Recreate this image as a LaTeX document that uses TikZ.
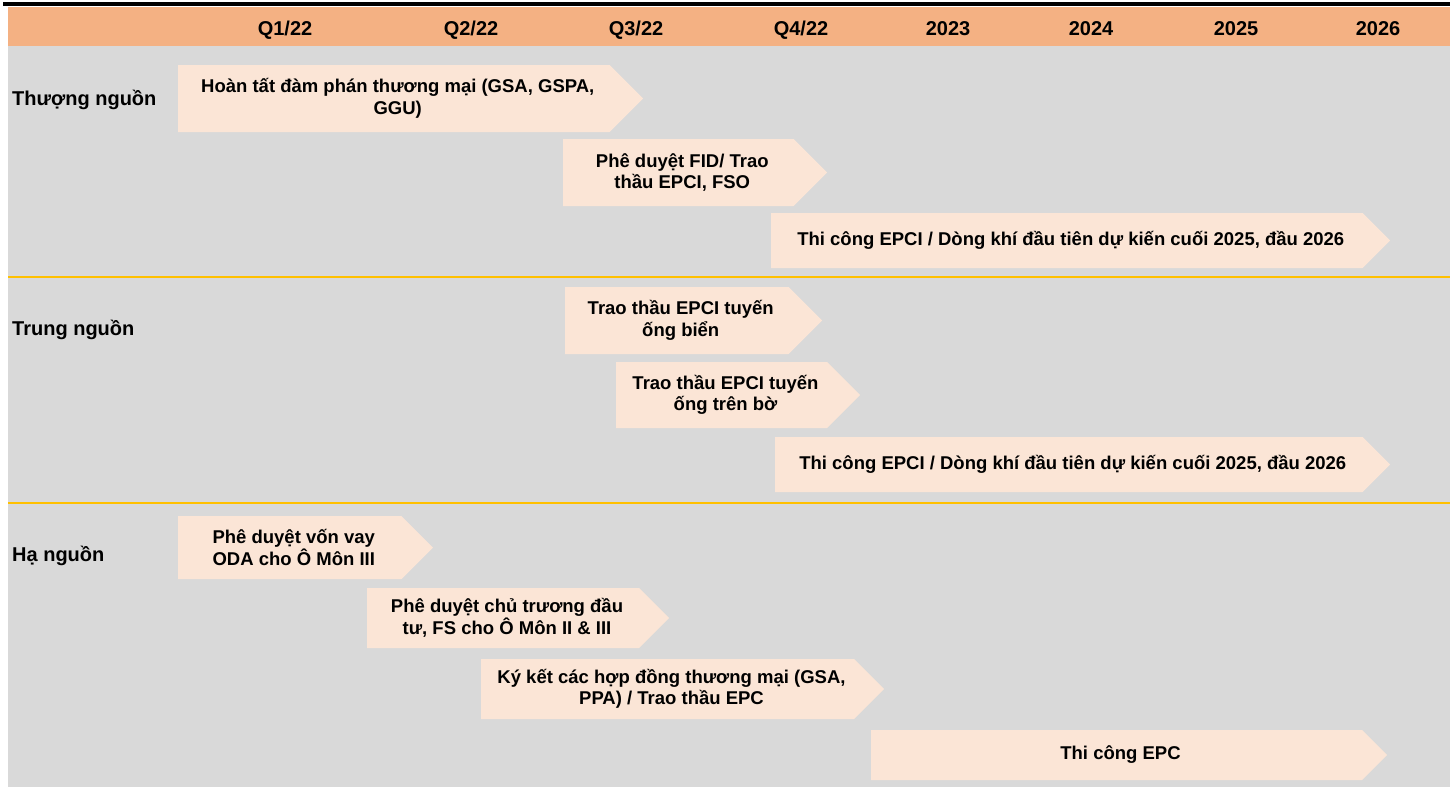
\documentclass[tikz,border=0pt]{standalone}
\usepackage{fontspec}
\setmainfont{Liberation Sans}
\usetikzlibrary{positioning}

\definecolor{headorange}{HTML}{F4B183}
\definecolor{bodygray}{HTML}{D9D9D9}
\definecolor{phasepeach}{HTML}{FBE5D6}
\definecolor{rulegold}{HTML}{FFC000}

\tikzset{
  lbl/.style={font=\bfseries\fontsize{18.5}{21.5}\selectfont, inner sep=0pt},
  biglbl/.style={font=\bfseries\fontsize{20}{23}\selectfont, inner sep=0pt},
  head/.style={biglbl, anchor=base},
  rowlbl/.style={biglbl, anchor=base west},
  phasetext/.style={lbl, align=center},
}

% #1 name, #2 left, #3 tip, #4 top, #5 bottom, #6 text
\newcommand{\stagebar}[6]{%
  \fill[phasepeach] (#2,#4) -- ({#3-(#5-#4)/2},#4) -- (#3,{(#4+#5)/2})
    -- ({#3-(#5-#4)/2},#5) -- (#2,#5) -- cycle;
  \node[phasetext] (#1) at ({(#2+#3-(#5-#4)/2)/2+4},{(#4+#5)/2}) {#6};}

\begin{document}
\begin{tikzpicture}[x=1pt, y=-1pt]
    \useasboundingbox (0,0) rectangle (1450,787);
    \fill[black] (3,2) rectangle (1450,6);
    \fill[headorange] (8,7) rectangle (1450,46);
    \fill[bodygray] (8,46) rectangle (1450,787);
    \draw[rulegold, line width=2pt] (8,277) -- (1450,277);
    \draw[rulegold, line width=2pt] (8,503) -- (1450,503);

    \node[head] (q1) at (285,35) {Q1/22};
    \node[head] (q2) at (471,35) {Q2/22};
    \node[head] (q3) at (636,35) {Q3/22};
    \node[head] (q4) at (801,35) {Q4/22};
    \node[head] (y23) at (948,35) {2023};
    \node[head] (y24) at (1091,35) {2024};
    \node[head] (y25) at (1236,35) {2025};
    \node[head] (y26) at (1378,35) {2026};

    \node[rowlbl] (thuong) at (12,105) {Thượng nguồn};
    \node[rowlbl] (trung) at (12,335) {Trung nguồn};
    \node[rowlbl] (ha) at (12,561) {Hạ nguồn};

    \stagebar{tn1}{178}{643}{65}{132}{Hoàn tất đàm phán thương mại (GSA, GSPA,\\ GGU)}
    \stagebar{tn2}{563}{827}{139}{206}{Phê duyệt FID/ Trao\\ thầu EPCI, FSO}
    \stagebar{tn3}{771}{1390}{213}{268}{Thi công EPCI / Dòng khí đầu tiên dự kiến cuối 2025, đầu 2026}

    \stagebar{tg1}{565}{822}{287}{354}{Trao thầu EPCI tuyến\\ ống biển}
    \stagebar{tg2}{616}{860}{362}{428}{Trao thầu EPCI tuyến\\ ống trên bờ}
    \stagebar{tg3}{775}{1390}{437}{492}{Thi công EPCI / Dòng khí đầu tiên dự kiến cuối 2025, đầu 2026}

    \stagebar{hn1}{178}{433}{516}{579}{Phê duyệt vốn vay\\ ODA cho Ô Môn III}
    \stagebar{hn2}{367}{669}{588}{648}{Phê duyệt chủ trương đầu\\ tư, FS cho Ô Môn II \& III}
    \stagebar{hn3}{481}{884}{659}{719}{Ký kết các hợp đồng thương mại (GSA,\\ PPA) / Trao thầu EPC}
    \stagebar{hn4}{871}{1387}{730}{780}{Thi công EPC}
\end{tikzpicture}
\end{document}
